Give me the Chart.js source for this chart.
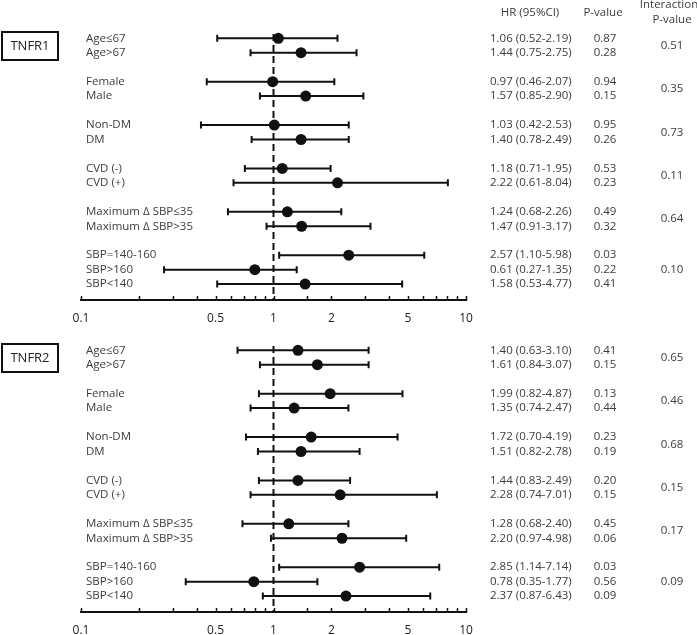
<!DOCTYPE html>
<html>
<head>
<meta charset="utf-8">
<script src="https://cdn.jsdelivr.net/npm/chart.js@4"></script>
<style>
  html, body { margin: 0; padding: 0; background: #fff; overflow: hidden; }
  #wrap { position: relative; width: 697px; height: 635px; }
  canvas { position: absolute; left: 0; }
</style>
</head>
<body>
<div id="wrap">
  <canvas id="chartTop" width="697" height="330" style="top:0px"></canvas>
  <canvas id="chartBottom" width="697" height="330" style="top:312px"></canvas>
</div>
<script>
// Subgroups (same for both panels)
const subgroups = ["Age≤67", "Age>67", "Female", "Male", "Non-DM", "DM", "CVD (-)", "CVD (+)",
  "Maximum Δ SBP≤35", "Maximum Δ SBP>35", "SBP=140-160", "SBP>160", "SBP<140"];
const groupSizes = [2, 2, 2, 2, 2, 3];
const tickLabels = [0.1, 0.5, 1, 2, 5, 10];

// TNFR1 - plotted marks
const hr1 = [1.06, 1.39, 0.99, 1.47, 1.01, 1.39, 1.11, 2.15, 1.18, 1.40, 2.46, 0.80, 1.46];
const lo1 = [0.51, 0.76, 0.45, 0.85, 0.42, 0.77, 0.71, 0.62, 0.58, 0.92, 1.07, 0.27, 0.51];
const hi1 = [2.15, 2.70, 2.07, 2.93, 2.46, 2.46, 1.98, 8.05, 2.25, 3.19, 6.07, 1.32, 4.66];
// TNFR1 - table text
const hrText1 = ["1.06 (0.52-2.19)", "1.44 (0.75-2.75)", "0.97 (0.46-2.07)", "1.57 (0.85-2.90)",
  "1.03 (0.42-2.53)", "1.40 (0.78-2.49)", "1.18 (0.71-1.95)", "2.22 (0.61-8.04)",
  "1.24 (0.68-2.26)", "1.47 (0.91-3.17)", "2.57 (1.10-5.98)", "0.61 (0.27-1.35)", "1.58 (0.53-4.77)"];
const p1 = ["0.87", "0.28", "0.94", "0.15", "0.95", "0.26", "0.53", "0.23", "0.49", "0.32", "0.03", "0.22", "0.41"];
const pInt1 = ["0.51", "0.35", "0.73", "0.11", "0.64", "0.10"];

// TNFR2 - plotted marks
const hr2 = [1.34, 1.69, 1.97, 1.28, 1.57, 1.39, 1.34, 2.22, 1.20, 2.27, 2.80, 0.79, 2.38];
const lo2 = [0.65, 0.85, 0.84, 0.76, 0.72, 0.83, 0.84, 0.76, 0.69, 0.97, 1.07, 0.35, 0.88];
const hi2 = [3.12, 3.12, 4.68, 2.45, 4.41, 2.80, 2.50, 7.06, 2.45, 4.89, 7.26, 1.69, 6.52];
// TNFR2 - table text
const hrText2 = ["1.40 (0.63-3.10)", "1.61 (0.84-3.07)", "1.99 (0.82-4.87)", "1.35 (0.74-2.47)",
  "1.72 (0.70-4.19)", "1.51 (0.82-2.78)", "1.44 (0.83-2.49)", "2.28 (0.74-7.01)",
  "1.28 (0.68-2.40)", "2.20 (0.97-4.98)", "2.85 (1.14-7.14)", "0.78 (0.35-1.77)", "2.37 (0.87-6.43)"];
const p2 = ["0.41", "0.15", "0.13", "0.44", "0.23", "0.19", "0.20", "0.15", "0.45", "0.06", "0.03", "0.56", "0.09"];
const pInt2 = ["0.65", "0.46", "0.68", "0.15", "0.17", "0.09"];

const INK = "#111";
const TEXT = "#3c3c3c";
const FONT = "'Open Sans', 'DejaVu Sans', sans-serif";

// row index for each subgroup, with a blank row between groups
function layoutRows(sizes) {
  const rows = [], mids = [];
  let r = 0;
  sizes.forEach(n => {
    const start = r;
    for (let k = 0; k < n; k++) rows.push(r++);
    mids.push(start + (n - 1) / 2);
    r++;
  });
  return { rows, mids };
}

function makePanel(canvasId, title, hr, lo, hi, hrText, p, pInt, showHeader) {
  const { rows, mids } = layoutRows(groupSizes);
  const lastRow = rows[rows.length - 1];

  const datasets = [];
  // reference line at HR = 1
  datasets.push({
    type: "line",
    data: [{ x: 1, y: -0.3 }, { x: 1, y: lastRow + 1.1 }],
    borderColor: INK, borderWidth: 2, borderDash: [7, 4],
    pointRadius: 0, order: 3
  });
  // confidence intervals
  rows.forEach((r, i) => {
    datasets.push({
      type: "line",
      data: [{ x: lo[i], y: r }, { x: hi[i], y: r }],
      borderColor: INK, borderWidth: 2,
      pointStyle: "line", rotation: 90, pointRadius: 3.5,
      pointBorderWidth: 2, pointBorderColor: INK, order: 2
    });
  });
  // hazard ratio markers
  datasets.push({
    type: "scatter",
    data: hr.map((v, i) => ({ x: v, y: rows[i] })),
    backgroundColor: INK, borderWidth: 0, pointRadius: 5.5, order: 1
  });

  const textPlugin = {
    id: "forestText",
    afterDraw(chart) {
      const ctx = chart.ctx;
      const y = chart.scales.y;
      const x = chart.scales.x;
      ctx.save();

      // upward tick marks on the axis
      ctx.strokeStyle = INK;
      ctx.lineWidth = 1.5;
      const base = chart.chartArea.bottom;
      x.ticks.forEach(t => {
        const px = Math.round(x.getPixelForValue(t.value)) + 0.5;
        ctx.beginPath();
        ctx.moveTo(px, base - 4);
        ctx.lineTo(px, base + 1);
        ctx.stroke();
      });

      ctx.font = "11.5px " + FONT;
      ctx.fillStyle = TEXT;
      ctx.textBaseline = "middle";

      rows.forEach((r, i) => {
        const py = y.getPixelForValue(r);
        ctx.textAlign = "left";
        ctx.fillText(subgroups[i], 86, py);
        ctx.fillText(hrText[i], 490, py);
        ctx.textAlign = "center";
        ctx.fillText(p[i], 605, py);
      });
      mids.forEach((m, g) => {
        ctx.textAlign = "center";
        ctx.fillText(pInt[g], 672, y.getPixelForValue(m));
      });

      if (showHeader) {
        ctx.textAlign = "center";
        ctx.fillText("HR (95%CI)", 530, 13);
        ctx.fillText("P-value", 603, 13);
        ctx.fillText("Interaction", 669, 5);
        ctx.fillText("P-value", 672, 20);
      }

      // panel title box
      const cy = y.getPixelForValue(0.5);
      ctx.strokeStyle = INK;
      ctx.lineWidth = 2;
      ctx.strokeRect(2, Math.round(cy - 14), 56, 28);
      ctx.font = "13px " + FONT;
      ctx.fillStyle = "#222";
      ctx.textAlign = "center";
      ctx.fillText(title, 30, cy + 0.5);
      ctx.restore();
    }
  };

  return new Chart(document.getElementById(canvasId), {
    data: { datasets },
    options: {
      responsive: false,
      animation: false,
      devicePixelRatio: 1,
      layout: { padding: { left: 81, right: 231, top: 29.6, bottom: 0 } },
      plugins: { legend: { display: false }, tooltip: { enabled: false } },
      scales: {
        x: {
          type: "logarithmic",
          min: 0.1, max: 10,
          grid: { display: true, drawOnChartArea: false, drawTicks: false },
          border: { display: true, color: INK, width: 2 },
          ticks: {
            autoSkip: false, maxRotation: 0, padding: 11,
            color: "#222", font: { family: FONT, size: 12 },
            callback: v => {
              const n = Number(Number(v).toPrecision(2));
              return tickLabels.includes(n) ? String(n) : "";
            }
          },
          afterFit: s => { s.height = 30; }
        },
        y: {
          type: "linear", display: false, reverse: true,
          min: -0.6, max: lastRow + 1.1
        }
      }
    },
    plugins: [textPlugin]
  });
}

makePanel("chartTop", "TNFR1", hr1, lo1, hi1, hrText1, p1, pInt1, true);
makePanel("chartBottom", "TNFR2", hr2, lo2, hi2, hrText2, p2, pInt2, false);
</script>
</body>
</html>
